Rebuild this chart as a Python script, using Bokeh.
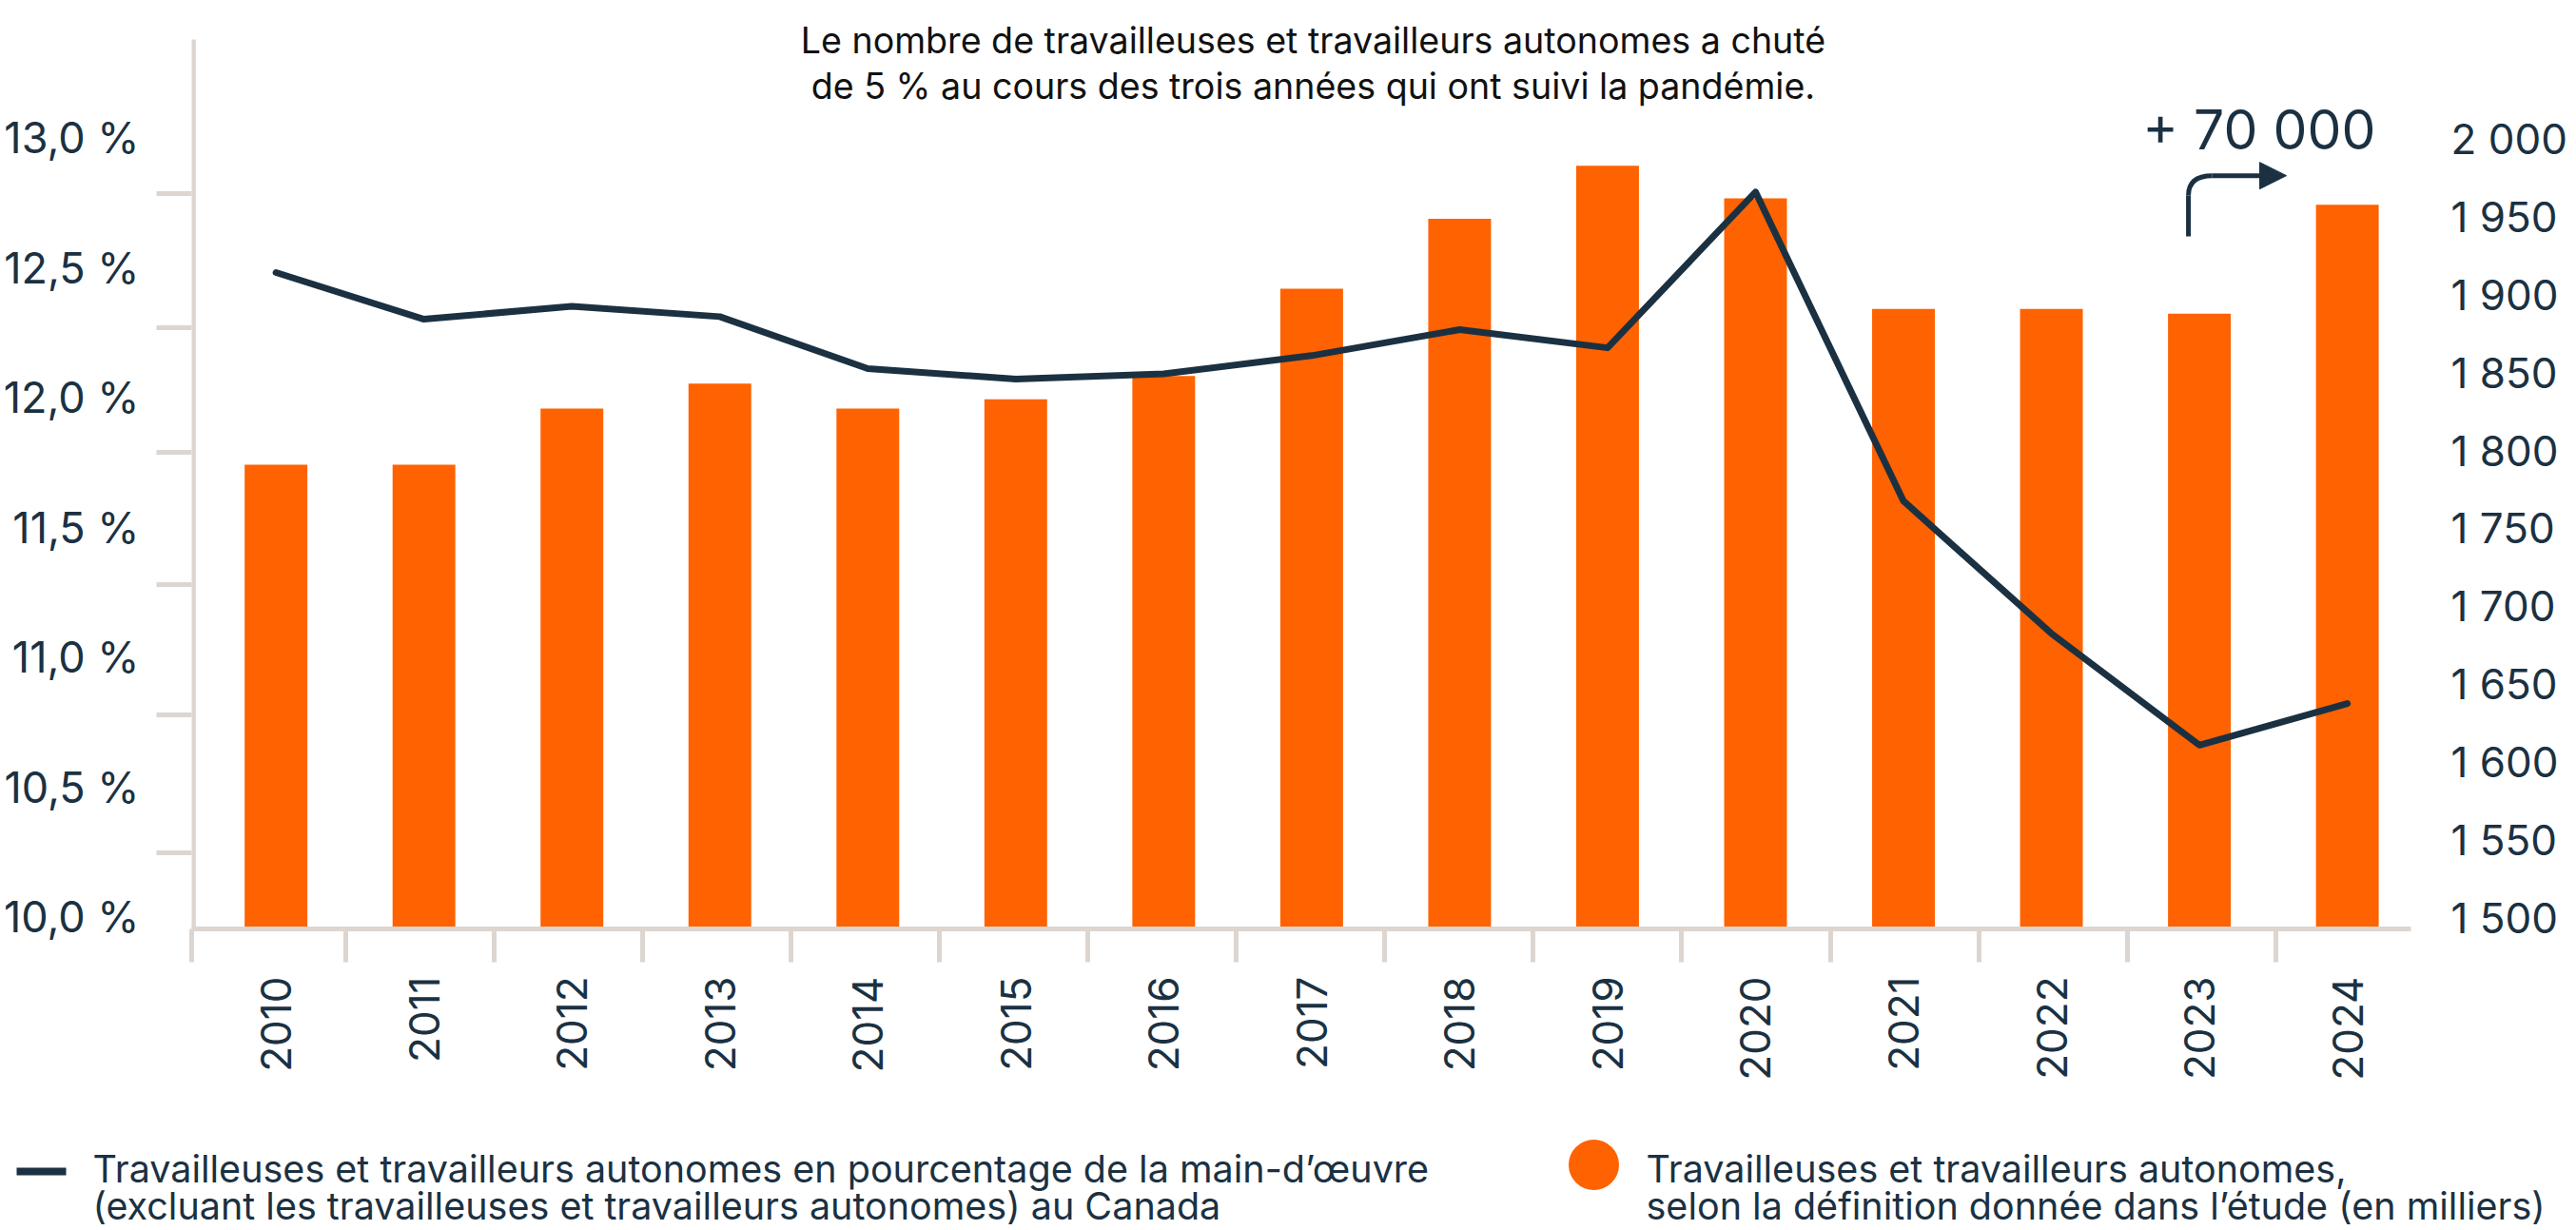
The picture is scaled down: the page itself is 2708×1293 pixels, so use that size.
import math
from bokeh.plotting import figure
from bokeh.models import Range1d, LinearAxis, FixedTicker, Label, Arrow, NormalHead
from bokeh.embed import file_html
from bokeh.resources import INLINE
from bokeh.core.properties import value

# ---------------- data ----------------
years = ["2010", "2011", "2012", "2013", "2014", "2015", "2016", "2017",
         "2018", "2019", "2020", "2021", "2022", "2023", "2024"]
share_pct = [12.48, 12.30, 12.35, 12.31, 12.11, 12.07, 12.09, 12.16,
             12.26, 12.19, 12.79, 11.60, 11.09, 10.66, 10.82]
self_employed_k = [1791, 1791, 1827, 1843, 1827, 1833, 1848, 1904,
                   1949, 1983, 1962, 1891, 1891, 1888, 1958]
left_ticks = [10.0, 10.5, 11.0, 11.5, 12.0, 12.5, 13.0]
left_tick_labels = ["10,0\u00a0%", "10,5\u00a0%", "11,0\u00a0%", "11,5\u00a0%",
                    "12,0\u00a0%", "12,5\u00a0%", "13,0\u00a0%"]
right_ticks = [1500, 1550, 1600, 1650, 1700, 1750, 1800, 1850, 1900, 1950, 2000]
right_tick_labels = ["1\u00a0500", "1\u00a0550", "1\u00a0600", "1\u00a0650", "1\u00a0700",
                     "1\u00a0750", "1\u00a0800", "1\u00a0850", "1\u00a0900", "1\u00a0950",
                     "2\u00a0000"]
title_lines = ["Le nombre de travailleuses et travailleurs autonomes a chuté",
               "de 5\u00a0% au cours des trois années qui ont suivi la pandémie."]
annotation_text = "+\u00a070\u00a0000"
legend_line_labels = ["Travailleuses et travailleurs autonomes en pourcentage de la main-d\u2019œuvre",
                      "(excluant les travailleuses et travailleurs autonomes) au Canada"]
legend_bar_labels = ["Travailleuses et travailleurs autonomes,",
                     "selon la définition donnée dans l\u2019étude (en milliers)"]

# ---------------- style ----------------
FONT = "Inter"
NAVY = "#1b3142"
ORANGE = "#ff6200"
AXIS = "#ddd5cf"
W = 2708
H_MAIN = 1168
H_LEG = 125
FRAME_L, FRAME_R, FRAME_T, FRAME_B = 200, 2534, 0, 976

LEFT_START, LEFT_END = 9.9524, 13.5275
RIGHT_START, RIGHT_END = 1492.67, 2089.2
AXIS_TOP = 13.377   # where the left axis line stops

xs = [i + 0.57 for i in range(len(years))]

p = figure(width=W, height=H_MAIN, x_range=Range1d(0, 15),
           y_range=Range1d(LEFT_START, LEFT_END),
           output_backend="svg", toolbar_location=None,
           min_border_left=FRAME_L, min_border_right=W - FRAME_R,
           min_border_top=FRAME_T, min_border_bottom=H_MAIN - FRAME_B)
p.outline_line_color = None
p.grid.visible = False
p.background_fill_color = "white"
p.border_fill_color = "white"

p.extra_y_ranges = {"right": Range1d(RIGHT_START, RIGHT_END)}

# left axis line (stops below the title area)
p.segment(x0=[0.012], y0=[LEFT_START], x1=[0.012], y1=[AXIS_TOP],
          line_width=5, line_color=AXIS)

# bars
p.vbar(x=xs, top=self_employed_k, bottom=RIGHT_START, width=0.424,
       y_range_name="right", fill_color=ORANGE, line_color=None)
# line
p.line(xs, share_pct, line_width=7, line_color=NAVY, line_join="round", line_cap="round")

# x axis
xa = p.xaxis[0]
boundaries = [0.0] + [1.039 + 1.0036 * (k - 1) for k in range(1, 15)]
xa.ticker = FixedTicker(ticks=xs, minor_ticks=boundaries)
xa.major_label_overrides = {x: y for x, y in zip(xs, years)}
xa.major_label_orientation = math.pi / 2
xa.major_tick_line_color = None
xa.major_tick_out = 0
xa.major_tick_in = 0
xa.minor_tick_line_color = AXIS
xa.minor_tick_line_width = 5
xa.minor_tick_out = 35
xa.minor_tick_in = 0
xa.axis_line_color = AXIS
xa.axis_line_width = 5
xa.major_label_standoff = 15
xa.major_label_text_font = FONT
xa.major_label_text_font_size = "44px"
xa.major_label_text_color = NAVY

# left axis
ya = p.yaxis[0]
ya.ticker = FixedTicker(ticks=left_ticks,
                        minor_ticks=[10.245, 10.778, 11.28, 11.788, 12.267, 12.784])
ya.major_label_overrides = {x: y for x, y in zip(left_ticks, left_tick_labels)}
ya.major_tick_line_color = None
ya.major_tick_out = 0
ya.major_tick_in = 0
ya.minor_tick_line_color = AXIS
ya.minor_tick_line_width = 5
ya.minor_tick_out = 37
ya.minor_tick_in = 0
ya.axis_line_color = None
ya.major_label_standoff = 18
ya.major_label_text_font = FONT
ya.major_label_text_font_size = "45px"
ya.major_label_text_color = NAVY

# right axis
ra = LinearAxis(y_range_name="right")
ra.ticker = FixedTicker(ticks=right_ticks)
ra.major_label_overrides = {x: y for x, y in zip(right_ticks, right_tick_labels)}
ra.axis_line_color = None
ra.major_tick_line_color = None
ra.minor_tick_line_color = None
ra.major_tick_out = 0
ra.major_tick_in = 0
ra.major_label_standoff = 42
ra.major_label_text_font = FONT
ra.major_label_text_font_size = "44px"
ra.major_label_text_color = NAVY
p.add_layout(ra, "right")

# title lines
for txt, yy in zip(title_lines, [13.374, 13.199]):
    p.add_layout(Label(x=7.58, y=yy, text=txt, text_align="center",
                       text_baseline="alphabetic", text_font=FONT,
                       text_font_size="37.6px", text_color="#111111"))

# +70 000 annotation
p.add_layout(Label(x=13.186, y=13.028, text=annotation_text, text_align="left",
                   text_baseline="alphabetic", text_font=FONT,
                   text_font_size="57px", text_color=NAVY))
p.segment(x0=[13.496], y0=[12.619], x1=[13.496], y1=[12.777],
          line_width=5, line_color=NAVY)
p.quadratic(x0=[13.496], y0=[12.777], x1=[13.657], y1=[12.853],
            cx=[13.496], cy=[12.853], line_width=5, line_color=NAVY)
p.add_layout(Arrow(end=NormalHead(size=28, fill_color=NAVY, line_color=NAVY),
                   x_start=13.657, y_start=12.853, x_end=14.158, y_end=12.853,
                   line_width=5, line_color=NAVY))

# ---------------- legend (separate root, page coordinates) ----------------
q = figure(width=W, height=H_LEG, x_range=Range1d(0, W), y_range=Range1d(H_MAIN + H_LEG, H_MAIN),
           output_backend="svg", toolbar_location=None,
           x_axis_location=None, y_axis_location=None,
           min_border_left=0, min_border_right=0, min_border_top=0, min_border_bottom=0)
q.outline_line_color = None
q.grid.visible = False
q.border_fill_color = "white"
q.background_fill_color = "white"
q.segment(x0=[17], y0=[1231], x1=[69], y1=[1231], line_width=8, line_color=NAVY)
q.scatter(x=[1675], y=[1224], size=53, fill_color=ORANGE, line_color=None)
q.text(x=[97, 97, 1730, 1730], y=[1228, 1267, 1228, 1267],
       text=legend_line_labels + legend_bar_labels,
       text_font=value(FONT), text_font_size="39.5px", text_color=NAVY,
       text_baseline="alphabetic", text_align="left")

open("out.html", "w").write(file_html([p, q], INLINE))
